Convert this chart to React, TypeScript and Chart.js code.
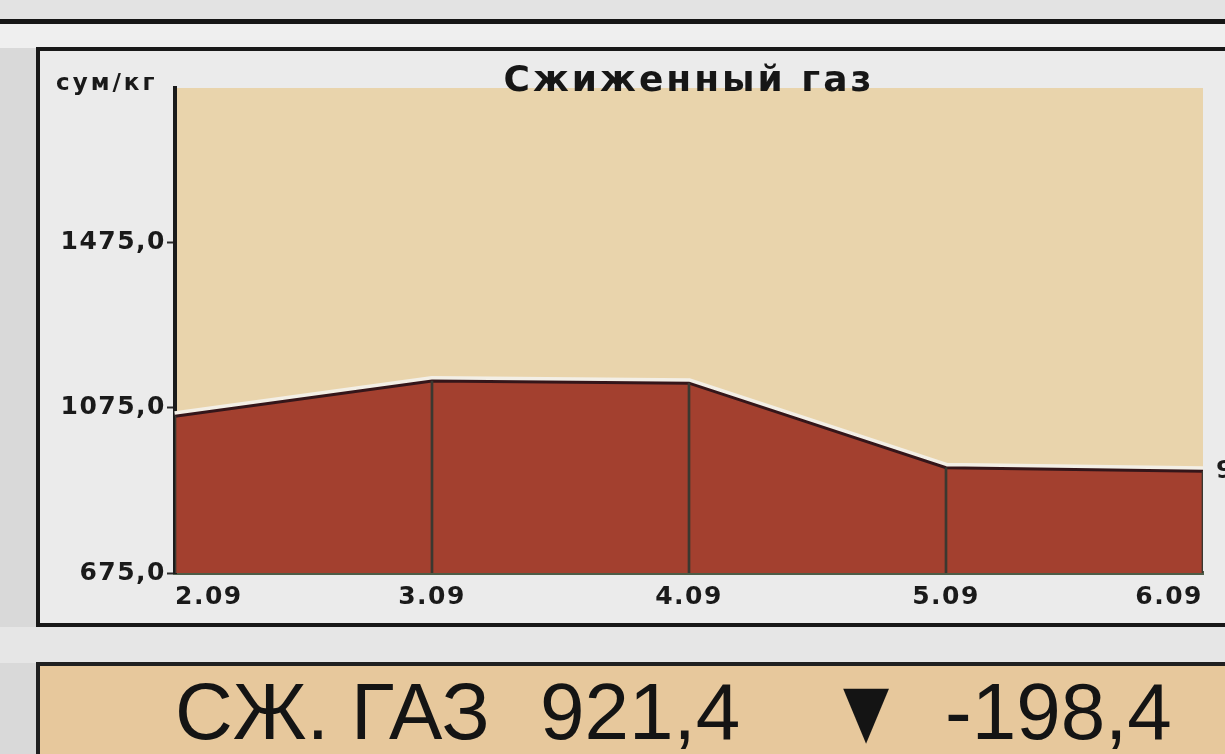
import React, { useEffect, useRef } from 'react';
import { Chart, registerables } from 'chart.js';

Chart.register(...registerables);

const categories = ['2.09', '3.09', '4.09', '5.09', '6.09'];
const prices = [1055, 1140, 1135, 930, 921.4];
const yTickValues = [675, 1075, 1475];
const yMin = 675;
const yMax = 1850;
const titleText = 'Сжиженный газ';
const unitText = 'сум/кг';
const bannerName = 'СЖ. ГАЗ';
const bannerValue = '921,4';
const bannerArrow = '▼';
const bannerChange = '-198,4';

const fmt = (v: number) => v.toFixed(1).replace('.', ',');

const tickFont = { family: '"DejaVu Sans", Verdana, sans-serif', size: 25, weight: 'bold' as const };

const decorPlugin = {
  id: 'decor',
  beforeDraw(chart: any) {
    const { ctx, chartArea } = chart;
    const { left, top, right, bottom } = chartArea;
    ctx.save();
    ctx.fillStyle = '#e9d4ac';
    ctx.fillRect(left, top, right - left, bottom - top);
    ctx.restore();
    (ctx as any).letterSpacing = '1.5px';
  },
  afterDatasetsDraw(chart: any) {
    const { ctx } = chart;
    const meta = chart.getDatasetMeta(0);
    const last = meta.data[meta.data.length - 1];
    if (!last) return;
    ctx.save();
    ctx.font = 'bold 25px "DejaVu Sans", Verdana, sans-serif';
    ctx.fillStyle = '#1c1c1c';
    ctx.textBaseline = 'middle';
    ctx.textAlign = 'left';
    ctx.fillText(fmt(prices[prices.length - 1]), last.x + 13, last.y);
    ctx.restore();
  },
};

function PriceChart() {
  const ref = useRef<HTMLCanvasElement | null>(null);
  useEffect(() => {
    if (!ref.current) return;
    const chart = new Chart(ref.current, {
      type: 'line',
      data: {
        labels: categories,
        datasets: [
          {
            type: 'line',
            data: prices,
            borderColor: '#34161a',
            borderWidth: 3,
            backgroundColor: '#a3402f',
            fill: 'start',
            pointRadius: 0,
            tension: 0,
            order: 0,
          },
          {
            type: 'line',
            data: prices,
            borderColor: '#f3efe6',
            borderWidth: 10,
            fill: false,
            pointRadius: 0,
            tension: 0,
            order: 2,
          },
          {
            type: 'bar',
            data: prices,
            backgroundColor: '#3a3830',
            barThickness: 2,
            order: -1,
          } as any,
        ],
      },
      options: {
        animation: false,
        responsive: false,
        devicePixelRatio: 1,
        layout: { padding: { top: 88, right: 22, left: 0, bottom: 0 } },
        plugins: {
          legend: { display: false },
          tooltip: { enabled: false },
          title: { display: false },
        },
        scales: {
          x: {
            type: 'category',
            offset: false,
            grid: { display: true, drawOnChartArea: false, drawTicks: false, offset: false },
            border: { display: true, color: '#4d5c47', width: 4 },
            ticks: { align: 'inner', padding: 9, color: '#1a1a1a', font: tickFont, maxRotation: 0, autoSkip: false },
            afterFit: (s: any) => {
              s.height = 181;
              s.paddingLeft = 0;
              s.paddingRight = 0;
            },
          },
          y: {
            type: 'linear',
            min: yMin,
            max: yMax,
            grid: { display: true, drawOnChartArea: false, drawTicks: true, tickLength: 8, tickColor: '#2a2a2a', tickWidth: 2 },
            border: { display: true, color: '#1b1b1b', width: 4 },
            ticks: { padding: 1, color: '#1a1a1a', font: tickFont, callback: (v: any) => fmt(Number(v)) },
            afterBuildTicks: (s: any) => {
              s.ticks = yTickValues.map((v) => ({ value: v }));
            },
            afterFit: (s: any) => {
              s.width = 175;
            },
          },
        },
      } as any,
      plugins: [decorPlugin],
    });
    return () => chart.destroy();
  }, []);
  return (
    <canvas
      ref={ref}
      width={1225}
      height={754}
      style={{ position: 'absolute', left: 0, top: 0, width: 1225, height: 754 }}
    />
  );
}

export default function App() {
  const abs = (s: React.CSSProperties): React.CSSProperties => ({ position: 'absolute', ...s });
  return (
    <div
      style={{
        position: 'fixed',
        left: 0,
        top: 0,
        width: 1225,
        height: 754,
        overflow: 'hidden',
        background: '#d9d9d9',
      }}
    >
      <div style={abs({ left: 0, top: 0, width: 1225, height: 19, background: '#e3e3e3' })} />
      <div style={abs({ left: 0, top: 19, width: 1225, height: 5, background: '#161616' })} />
      <div style={abs({ left: 0, top: 24, width: 1225, height: 24, background: '#efefef' })} />
      <div
        style={abs({
          left: 36,
          top: 47,
          width: 1300,
          height: 580,
          boxSizing: 'border-box',
          border: '4px solid #181818',
          background: '#ebebeb',
        })}
      />
      <div style={abs({ left: 0, top: 627, width: 1225, height: 36, background: '#e6e6e6' })} />
      <div
        style={abs({
          left: 36,
          top: 662,
          width: 1300,
          height: 200,
          boxSizing: 'border-box',
          borderTop: '4px solid #202020',
          borderLeft: '4px solid #202020',
          background: '#e7c89c',
        })}
      />
      <PriceChart />
      <div
        style={abs({
          left: 56,
          top: 71,
          fontFamily: '"DejaVu Sans", Verdana, sans-serif',
          fontWeight: 'bold',
          fontSize: 23,
          lineHeight: 1,
          letterSpacing: 3,
          color: '#1a1a1a',
          whiteSpace: 'nowrap',
        })}
      >
        {unitText}
      </div>
      <div
        style={abs({
          left: 489,
          width: 400,
          top: 61,
          textAlign: 'center',
          fontFamily: '"DejaVu Sans", Verdana, sans-serif',
          fontWeight: 'bold',
          fontSize: 36,
          lineHeight: 1,
          letterSpacing: 3,
          color: '#161616',
          whiteSpace: 'nowrap',
        })}
      >
        {titleText}
      </div>
      <div style={abs({ left: 0, top: 672, width: 1225, height: 82, fontFamily: '"Liberation Sans", Arial, sans-serif', fontSize: 80, lineHeight: 1, color: '#141414', whiteSpace: 'nowrap' })}>
        <span style={abs({ left: 175, top: 0 })}>{bannerName}</span>
        <span style={abs({ left: 540, top: 0 })}>{bannerValue}</span>
        <span
          style={abs({
            left: 843,
            top: 2,
            fontFamily: '"DejaVu Sans", sans-serif',
            fontSize: 60,
            transform: 'scaleY(1.2)',
            transformOrigin: 'top left',
          })}
        >
          {bannerArrow}
        </span>
        <span style={abs({ left: 945, top: 0 })}>{bannerChange}</span>
      </div>
    </div>
  );
}
